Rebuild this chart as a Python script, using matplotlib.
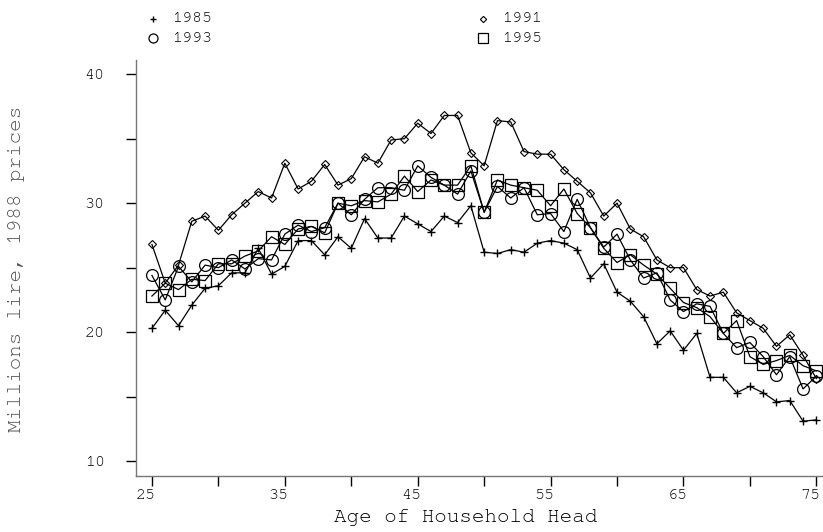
import matplotlib
matplotlib.use("Agg")
import matplotlib.pyplot as plt
from matplotlib.lines import Line2D
from matplotlib.transforms import ScaledTranslation
from matplotlib import font_manager
import logging
logging.getLogger("matplotlib.font_manager").setLevel(logging.ERROR)

ages = list(range(25, 76))

y1985 = [20.3, 21.7, 20.5, 22.1, 23.4, 23.6, 24.6, 24.6, 26.5, 24.5,
         25.1, 27.1, 27.1, 26.0, 27.4, 26.5, 28.8, 27.3, 27.3, 29.0,
         28.4, 27.8, 29.0, 28.5, 29.8, 26.2, 26.1, 26.4, 26.2, 26.9,
         27.1, 26.9, 26.4, 24.2, 25.3, 23.1, 22.4, 21.2, 19.1, 20.1,
         18.6, 19.9, 16.5, 16.5, 15.3, 15.8, 15.3, 14.6, 14.7, 13.1, 13.2]

y1991 = [26.8, 23.8, 25.2, 28.6, 29.0, 27.9, 29.1, 30.0, 30.9, 30.4,
         33.1, 31.1, 31.7, 33.0, 31.4, 31.9, 33.6, 33.1, 34.9, 35.0,
         36.2, 35.4, 36.8, 36.8, 33.9, 32.9, 36.4, 36.3, 34.0, 33.8,
         33.8, 32.6, 31.7, 30.8, 29.0, 30.0, 28.0, 27.4, 25.6, 25.0,
         25.0, 23.3, 22.8, 23.1, 21.5, 20.9, 20.3, 18.9, 19.8, 18.2, 16.4]

y1993 = [24.4, 22.5, 25.1, 23.9, 25.2, 25.0, 25.6, 24.9, 25.7, 25.6,
         27.6, 28.3, 27.8, 28.1, 30.0, 29.1, 30.3, 31.2, 31.2, 31.0,
         32.9, 32.0, 31.4, 30.7, 32.5, 29.3, 31.3, 30.4, 31.2, 29.1,
         29.2, 27.8, 30.3, 28.1, 26.6, 27.6, 25.6, 24.2, 24.6, 22.5,
         21.6, 22.2, 22.0, 19.9, 18.8, 19.2, 18.1, 16.7, 18.1, 15.6, 16.6]

y1995 = [22.8, 23.8, 23.3, 24.1, 24.0, 25.3, 25.3, 25.9, 26.3, 27.4,
         26.8, 28.0, 28.2, 27.7, 30.0, 29.8, 30.2, 30.1, 30.7, 32.1,
         30.9, 31.8, 31.4, 31.4, 32.9, 29.3, 31.8, 31.4, 31.2, 31.0,
         29.8, 31.1, 29.2, 28.1, 26.5, 25.4, 26.0, 25.2, 24.5, 23.4,
         22.3, 21.9, 21.2, 19.9, 20.9, 18.1, 17.5, 17.8, 18.2, 17.4, 17.0]

series = [
    ("1985", y1985, "+", 5.5, 1.0),
    ("1991", y1991, "D", 3.8, 0.8),
    ("1993", y1993, "o", 8.5, 0.9),
    ("1995", y1995, "s", 9.2, 0.9),
]

xticks = list(range(25, 76, 5))
xticklabels = ["25", "", "35", "", "45", "", "55", "", "65", "", "75"]
yticks = list(range(10, 41, 5))
yticklabels = ["10", "", "20", "", "30", "", "40"]

available = {f.name for f in font_manager.fontManager.ttflist}
FONT = [f for f in ["Courier New", "Nimbus Mono PS", "FreeMono", "Liberation Mono"]
        if f in available] or ["DejaVu Sans Mono"]

W, H = 823, 532
fig = plt.figure(figsize=(W / 100, H / 100), dpi=100)
left, right, top, bottom = 136, 823, 60, 476
ax = fig.add_axes([left / W, 1 - bottom / H, (right - left) / W, (bottom - top) / H])

for name, ys, mk, ms, mew in series:
    ax.plot(ages, ys, color="black", lw=0.9, marker=mk, ms=ms,
            mfc="none", mec="black", mew=mew)

ax.set_xlim(23.8, 75.5)
ax.set_ylim(8.85, 41.1)
ax.set_xticks(xticks)
ax.set_xticklabels(xticklabels, fontfamily=FONT, fontsize=12)
ax.set_yticks(yticks)
ax.set_yticklabels(yticklabels, fontfamily=FONT, fontsize=12)
for s in ["top", "right"]:
    ax.spines[s].set_visible(False)
for s in ["left", "bottom"]:
    ax.spines[s].set_color("#777777")
    ax.spines[s].set_linewidth(1.0)
ax.tick_params(axis="both", direction="out", length=7.5, width=1.0, color="black")
ax.tick_params(axis="x", pad=2)
ax.tick_params(axis="y", pad=15)
shift = ScaledTranslation(-6 / 100, 0, fig.dpi_scale_trans)
for lab in ax.get_xticklabels():
    lab.set_transform(lab.get_transform() + shift)

fig.text(597 / W, 1 - 517 / H, "Age of Household Head", ha="right", va="center",
         fontfamily=FONT, fontsize=15)
fig.text(17 / W, 1 - 269 / H, "Millions lire, 1988 prices", ha="center", va="center",
         rotation=90, fontfamily=FONT, fontsize=15, color="#555555")

# legend
leg = [("1985", "+", 5, 1.0, 153, 19), ("1991", "D", 3.2, 0.8, 483, 19),
       ("1993", "o", 6.5, 0.9, 153, 38), ("1995", "s", 7, 0.9, 483, 38)]
for name, mk, ms, mew, px, py in leg:
    fig.add_artist(Line2D([px / W], [1 - py / H], transform=fig.transFigure,
                          marker=mk, ms=ms, mfc="none", mec="black", mew=mew, ls="none"))
    fig.text((px + 19) / W, 1 - py / H, name, ha="left", va="center",
             fontfamily=FONT, fontsize=12)

fig.savefig("out.png", dpi=100)
